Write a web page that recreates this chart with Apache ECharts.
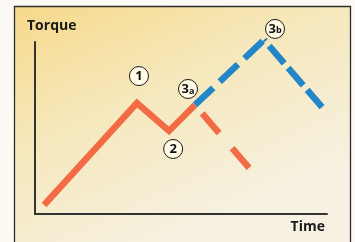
<!DOCTYPE html>
<html>
<head>
<meta charset="utf-8">
<script src="https://cdn.jsdelivr.net/npm/echarts@6/dist/echarts.min.js"></script>
<style>
  html, body { margin: 0; padding: 0; background: #fdfaf5; }
  #chart { width: 355px; height: 242px; }
</style>
</head>
<body>
<div id="chart"></div>
<script>
// time / torque points, arbitrary units (0..10 on both axes)
let orangeSolid = [[0.31, 0.52], [3.49, 6.45], [4.59, 4.83], [5.48, 6.34]];
let orangeDashed = [[5.48, 6.34], [7.36, 2.62]];
let blueRise = [[5.48, 6.34], [7.84, 10.12]];
let blueFall = [[7.84, 10.12], [9.83, 6.22]];

// numbered callouts
let markerLabels = ['1', '2', '3a', '3b'];
let markerPos = [[3.56, 8.02], [4.73, 3.78], [5.24, 7.27], [8.22, 10.76]];

let axisNames = ['Time', 'Torque'];

let orange = '#f26b45';
let blue = '#2386c8';
let font = '"Open Sans", "Noto Sans", sans-serif';

const dom = document.getElementById('chart');
const myChart = echarts.init(dom);

const markers = markerLabels.map(function (lbl, i) {
    let txt = lbl.length > 1 ? '{n|' + lbl[0] + '}{s|' + lbl[1] + '}' : '{n|' + lbl + '}';
    return { value: markerPos[i], label: { formatter: txt } };
});

const option = {
    animation: false,
    backgroundColor: '#fdfaf5',
    graphic: [{
        type: 'rect',
        z: -10,
        silent: true,
        shape: { x: 14.5, y: 6.5, width: 336, height: 260 },
        style: {
            fill: new echarts.graphic.LinearGradient(0, 0, 0.35, 1, [
                { offset: 0, color: '#f6d98a' },
                { offset: 0.45, color: '#f6e8bb' },
                { offset: 1, color: '#f6f1e2' }
            ]),
            stroke: '#2e2e2e',
            lineWidth: 1.3
        }
    }],
    grid: { left: 35, right: 28, top: 42, bottom: 28 },
    xAxis: {
        type: 'value',
        min: 0,
        max: 10,
        name: axisNames[0],
        nameLocation: 'end',
        nameGap: -2,
        nameTextStyle: {
            fontFamily: font, fontWeight: 'bold', fontSize: 14, color: '#1a1a1a',
            align: 'right', verticalAlign: 'top', padding: [6, 0, 0, 0]
        },
        axisLine: { lineStyle: { color: '#333', width: 2 } },
        axisTick: { show: false },
        axisLabel: { show: false },
        splitLine: { show: false }
    },
    yAxis: {
        type: 'value',
        min: 0,
        max: 10,
        name: axisNames[1],
        nameLocation: 'end',
        nameGap: 9,
        nameTextStyle: {
            fontFamily: font, fontWeight: 'bold', fontSize: 14, color: '#1a1a1a',
            align: 'left', padding: [0, 0, 0, -8]
        },
        axisLine: { lineStyle: { color: '#333', width: 2 } },
        axisTick: { show: false },
        axisLabel: { show: false },
        splitLine: { show: false }
    },
    series: [{
        type: 'line',
        data: orangeSolid,
        symbol: 'none',
        clip: false,
        lineStyle: { color: orange, width: 6.5, cap: 'butt', join: 'miter' }
    }, {
        type: 'line',
        data: orangeDashed,
        symbol: 'none',
        clip: false,
        lineStyle: { color: orange, width: 6.5, type: [26, 20], dashOffset: 35, cap: 'butt' }
    }, {
        type: 'line',
        data: blueRise,
        symbol: 'none',
        clip: false,
        lineStyle: { color: blue, width: 6.5, type: [25, 9], cap: 'butt' }
    }, {
        type: 'line',
        data: blueFall,
        symbol: 'none',
        clip: false,
        // starts with a gap at the peak
        lineStyle: { color: blue, width: 6.5, type: [23, 6], dashOffset: 21, cap: 'butt' }
    }, {
        type: 'scatter',
        data: markers,
        symbolSize: 19,
        clip: false,
        z: 5,
        itemStyle: { color: '#fffbe6', borderColor: '#1a1a1a', borderWidth: 1, opacity: 1 },
        label: {
            show: true,
            position: 'inside',
            rich: {
                n: { fontFamily: font, fontWeight: 'bold', fontSize: 13, color: '#111' },
                s: { fontFamily: font, fontWeight: 'bold', fontSize: 9, color: '#111', padding: [4, 0, 0, 0] }
            }
        }
    }]
};

if (option && typeof option === "object") {
    myChart.setOption(option, true);
}
</script>
</body>
</html>
